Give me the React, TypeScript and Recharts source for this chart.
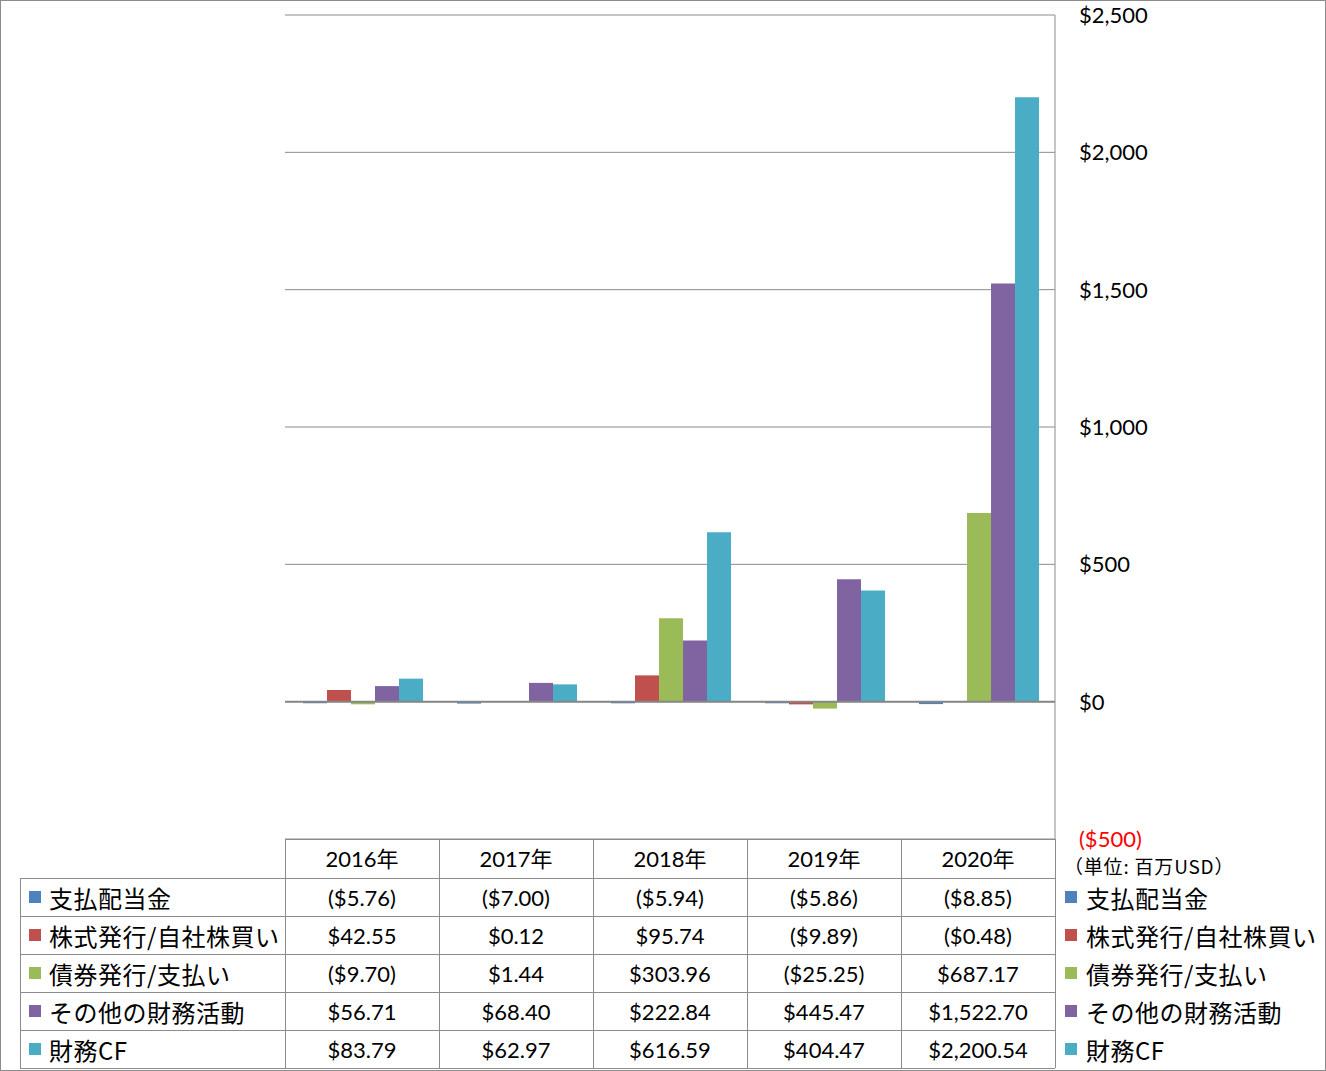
import React from 'react';
import { BarChart, Bar, XAxis, YAxis, CartesianGrid, ReferenceLine } from 'recharts';

const categories = ['2016年', '2017年', '2018年', '2019年', '2020年'];
const seriesNames = ['支払配当金', '株式発行/自社株買い', '債券発行/支払い', 'その他の財務活動', '財務CF'];
const seriesColors = ['#4F81BD', '#C0504D', '#9BBB59', '#8064A2', '#4BACC6'];

const dividends = [-5.76, -7.0, -5.94, -5.86, -8.85];
const stockIssue = [42.55, 0.12, 95.74, -9.89, -0.48];
const debtIssue = [-9.7, 1.44, 303.96, -25.25, 687.17];
const otherFinancing = [56.71, 68.4, 222.84, 445.47, 1522.7];
const financingCF = [83.79, 62.97, 616.59, 404.47, 2200.54];

const yTicks = [-500, 0, 500, 1000, 1500, 2000, 2500];

const seriesValues = [dividends, stockIssue, debtIssue, otherFinancing, financingCF];
const keys = ['s0', 's1', 's2', 's3', 's4'];

const data = categories.map((name, i) => {
  const row: Record<string, number | string> = { name };
  seriesValues.forEach((vals, s) => (row[keys[s]] = vals[i]));
  return row;
});

const fmt = (v: number, digits: number) => {
  const s = '$' + Math.abs(v).toLocaleString('en-US', { minimumFractionDigits: digits, maximumFractionDigits: digits });
  return v < 0 ? `(${s})` : s;
};

const W = 1326;
const H = 1071;
const PLOT_L = 285;
const PLOT_R = 1055;
const PLOT_T = 15;
const PLOT_B = 839;
const ROW_H = 38;
const TABLE_T = 879;
const LEFT_COL = 20;
const GRID = '#8c8c8c';
const NUM_FONT = "Lato, 'Noto Sans CJK JP', sans-serif";
const JP_FONT = "'Noto Sans CJK JP', sans-serif";

const YTick = (props: any) => {
  const { x, y, payload } = props;
  const v = payload.value as number;
  return (
    <text x={x + 16} y={y} dy={8} textAnchor="start" fontSize={22} fontFamily={NUM_FONT}
      fill={v < 0 ? '#FF0000' : '#000'}>
      {fmt(v, 0)}
    </text>
  );
};

const XTick = (props: any) => {
  const { x, payload } = props;
  return (
    <text x={x} y={PLOT_B + 28} textAnchor="middle" fontSize={22} fontFamily={NUM_FONT} fill="#000">
      {payload.value}
    </text>
  );
};

export default function App() {
  const colW = (PLOT_R - PLOT_L) / categories.length;
  const lines: React.ReactNode[] = [];
  // table borders
  lines.push(<div key="ht" style={{ position: 'absolute', left: PLOT_L, top: PLOT_B, width: PLOT_R - PLOT_L, height: 1, background: GRID }} />);
  for (let r = 0; r <= seriesNames.length; r++) {
    lines.push(<div key={'h' + r} style={{ position: 'absolute', left: LEFT_COL, top: TABLE_T + r * ROW_H - 1, width: PLOT_R - LEFT_COL, height: 1, background: GRID }} />);
  }
  for (let c = 0; c <= categories.length; c++) {
    lines.push(<div key={'v' + c} style={{ position: 'absolute', left: PLOT_L + c * colW, top: PLOT_B, width: 1, height: TABLE_T + 5 * ROW_H - PLOT_B - 1, background: GRID }} />);
  }
  lines.push(<div key="vl" style={{ position: 'absolute', left: LEFT_COL, top: TABLE_T - 1, width: 1, height: 5 * ROW_H, background: GRID }} />);

  return (
    <div style={{ position: 'absolute', left: 0, top: 0, width: W, height: H, boxSizing: 'border-box', border: `1px solid ${GRID}`, background: '#fff', overflow: 'hidden' }}>
      <div style={{ position: 'absolute', left: -1, top: -1 }}>
        <BarChart width={W} height={H} data={data}
          margin={{ top: PLOT_T, left: PLOT_L, right: W - PLOT_R - 90, bottom: H - PLOT_B - 40 }}
          barCategoryGap="11.7%" barGap={0}>
          <CartesianGrid vertical={false} stroke={GRID} />
          <XAxis dataKey="name" height={40} axisLine={false} tickLine={false} tick={<XTick />} interval={0} />
          <YAxis orientation="right" width={90} domain={[-500, 2500]} ticks={yTicks} interval={0}
            axisLine={{ stroke: GRID }} tickLine={false} tick={<YTick />} />
          <ReferenceLine y={0} stroke="#868686" strokeWidth={2} />
          {keys.map((k, i) => (
            <Bar key={k} dataKey={k} name={seriesNames[i]} fill={seriesColors[i]} isAnimationActive={false} />
          ))}
        </BarChart>
        {lines}
        {seriesNames.map((name, s) => (
          <React.Fragment key={name}>
            <div style={{ position: 'absolute', left: LEFT_COL + 9, top: TABLE_T + s * ROW_H + 12, width: 12, height: 12, background: seriesColors[s] }} />
            <div style={{ position: 'absolute', left: LEFT_COL + 29, top: TABLE_T + s * ROW_H, height: ROW_H, lineHeight: ROW_H + 'px', fontSize: 24, fontFamily: JP_FONT, letterSpacing: 0.5, whiteSpace: 'nowrap' }}>{name}</div>
            {seriesValues[s].map((v, c) => (
              <div key={c} style={{ position: 'absolute', left: PLOT_L + c * colW, top: TABLE_T + s * ROW_H, width: colW, height: ROW_H, lineHeight: ROW_H + 'px', textAlign: 'center', fontSize: 22, fontFamily: NUM_FONT }}>
                {fmt(v, 2)}
              </div>
            ))}
            <div style={{ position: 'absolute', left: 1065, top: TABLE_T + s * ROW_H + 12, width: 12, height: 12, background: seriesColors[s] }} />
            <div style={{ position: 'absolute', left: 1086, top: TABLE_T + s * ROW_H, height: ROW_H, lineHeight: ROW_H + 'px', fontSize: 24, fontFamily: JP_FONT, letterSpacing: 0.5, whiteSpace: 'nowrap' }}>{name}</div>
          </React.Fragment>
        ))}
        <div style={{ position: 'absolute', left: 1064, top: 852, fontSize: 19, letterSpacing: 0.8, fontFamily: JP_FONT, whiteSpace: 'nowrap', color: '#000' }}>（単位: 百万USD）</div>
      </div>
    </div>
  );
}
